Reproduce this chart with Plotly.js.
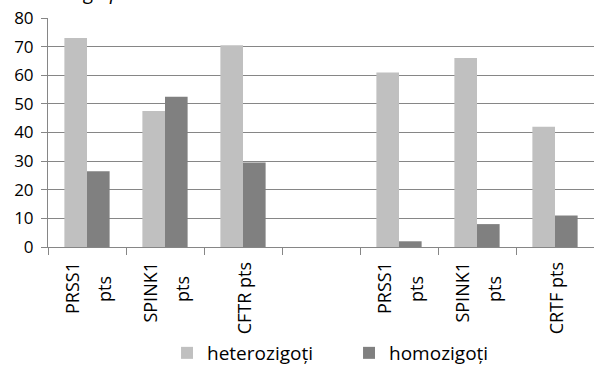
<!DOCTYPE html>
<html><head><meta charset="utf-8">
<script src="https://cdn.plot.ly/plotly-3.0.1.min.js"></script>
<style>html,body{margin:0;padding:0;background:#fff;}#chart{width:594px;height:372px;}</style>
</head><body><div id="chart"></div>
<script>
const categories = ["PRSS1 pts (1)", "SPINK1 pts (1)", "CFTR pts (1)", "gol", "PRSS1 pts (2)", "SPINK1 pts (2)", "CRTF pts (2)"];
const tickLabels = ["PRSS1<br>pts\u00a0\u00a0\u00a0", "SPINK1<br>pts\u00a0\u00a0\u00a0", "CFTR pts", "", "PRSS1<br>pts\u00a0\u00a0\u00a0", "SPINK1<br>pts\u00a0\u00a0\u00a0", "CRTF pts"];
const heterozigoti = [73, 47.5, 70.5, 0, 61, 66, 42];
const homozigoti = [26.5, 52.5, 29.5, 0, 2, 8, 11];
const seriesNames = ["heterozigoți", "homozigoți"];
const yTicks = [0, 10, 20, 30, 40, 50, 60, 70, 80];

const font = "Open Sans, sans-serif";
const data = [
  {type: "bar", x: categories, y: heterozigoti, name: seriesNames[0], marker: {color: "#c0c0c0"}},
  {type: "bar", x: categories, y: homozigoti, name: seriesNames[1], marker: {color: "#808080"}}
];
const layout = {
  width: 594, height: 372,
  margin: {l: 48, r: 0, t: 18, b: 124},
  paper_bgcolor: "#fff", plot_bgcolor: "#fff",
  barmode: "group", bargap: 0.42, bargroupgap: 0,
  font: {family: font, color: "#000"},
  showlegend: true,
  legend: {orientation: "h", x: 0.218, xanchor: "left", y: -0.465, yanchor: "middle",
           font: {size: 19, family: font}, entrywidth: 137, traceorder: "normal"},
  xaxis: {type: "category", tickvals: categories, ticktext: tickLabels.map(t => t ? '<span style="font-size:18px">' + t + '</span>' : t),
          tickangle: -90, tickson: "boundaries", ticks: "outside", ticklen: 7, ticklabelstandoff: 4,
          tickcolor: "#868686", showline: true, linecolor: "#868686", showgrid: false,
          tickfont: {size: 25, family: font}, fixedrange: true, automargin: false},
  yaxis: {range: [0, 80], tickvals: yTicks, ticks: "outside", ticklen: 6, tickcolor: "#868686",
          showline: true, linecolor: "#868686", showgrid: true, gridcolor: "#868686", gridwidth: 1,
          zeroline: false, tickfont: {size: 17, family: font}, ticklabelstandoff: 4, fixedrange: true, automargin: false},
  annotations: [{text: "<i>g\u00a0\u00a0\u00a0p</i>", xref: "paper", yref: "paper", x: 0.06, y: 1.0, xanchor: "left", yanchor: "bottom",
                 yshift: 11, showarrow: false, font: {size: 20, family: font}}]
};
Plotly.newPlot("chart", data, layout, {displayModeBar: false, staticPlot: true});
</script></body></html>
